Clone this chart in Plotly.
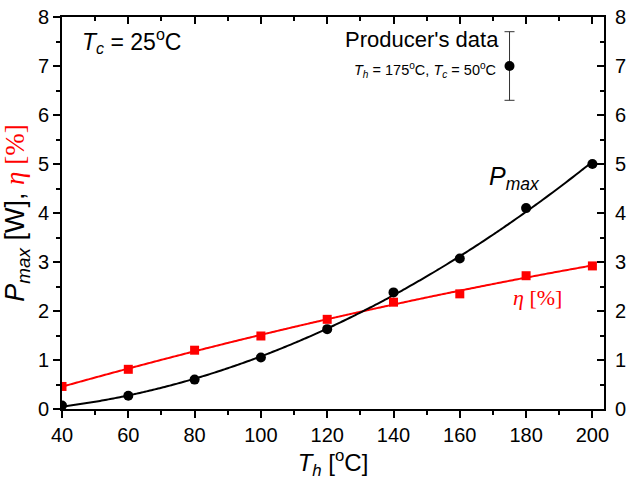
import numpy as np
import plotly.graph_objects as go

th = [40, 60, 80, 100, 120, 140, 160, 180, 200]
pmax = [0.07, 0.27, 0.60, 1.05, 1.63, 2.38, 3.07, 4.10, 5.00]
eta = [0.46, 0.81, 1.20, 1.49, 1.83, 2.18, 2.35, 2.72, 2.92]
prod_x = [175]
prod_y = [7.0]
prod_err = [0.7]
x_ticks = [40, 60, 80, 100, 120, 140, 160, 180, 200]
y_ticks = [0, 1, 2, 3, 4, 5, 6, 7, 8]

# fitted curves (quadratic least squares on the data)
xf = np.linspace(40, 200, 161)
pfit = np.polyval(np.polyfit(th, pmax, 2), xf)
efit = np.polyval(np.polyfit(th, eta, 2), xf)

FONT = "Liberation Sans, Arial, sans-serif"
SERIF = "Liberation Serif, Times New Roman, serif"
fig = go.Figure()
fig.add_trace(go.Scatter(x=xf, y=efit, mode="lines", line=dict(color="#ff0000", width=2, shape="spline"), showlegend=False))
fig.add_trace(go.Scatter(x=xf, y=pfit, mode="lines", line=dict(color="black", width=2, shape="spline"), showlegend=False))
fig.add_trace(go.Scatter(x=th, y=eta, mode="markers", marker=dict(symbol="square", size=9, color="#ff0000"), showlegend=False))
fig.add_trace(go.Scatter(x=th, y=pmax, mode="markers", marker=dict(symbol="circle", size=10, color="black"), showlegend=False))
fig.add_trace(go.Scatter(x=prod_x, y=prod_y, mode="markers",
                         marker=dict(symbol="circle", size=10, color="black"),
                         error_y=dict(type="data", array=prod_err, color="#333333", thickness=1, width=5),
                         showlegend=False))

xr = [40, 203.5]
yr = [0, 8]
common = dict(showgrid=False, zeroline=False, showline=True, linecolor="black", linewidth=2,
              tickcolor="black", tickwidth=2, automargin=False)
fig.update_layout(
    width=630, height=483,
    margin=dict(l=62, r=26, t=17, b=74),
    plot_bgcolor="white", paper_bgcolor="white",
    font=dict(family=FONT, color="black", size=19),
    xaxis=dict(range=xr, tickvals=x_ticks, ticks="outside", ticklen=7,
               minor=dict(ticks="outside", ticklen=4, dtick=10, tickcolor="black", tickwidth=1.5),
               title=dict(text="<i>T<sub>h</sub></i> [<sup>o</sup>C]", font=dict(size=24), standoff=8),
               tickfont=dict(size=20), **common),
    yaxis=dict(range=yr, tickvals=y_ticks, ticks="outside", ticklen=7,
               minor=dict(ticks="outside", ticklen=4, dtick=0.5, tickcolor="black", tickwidth=1.5),
               title=dict(text="<i>P<sub>max</sub></i> [W], "
                               "<span style=\"color:#ff0000;font-family:'Liberation Serif'\">"
                               "<i>η</i> [%]</span>",
                          font=dict(size=27), standoff=6),
               tickfont=dict(size=20), **common),
    xaxis2=dict(range=xr, overlaying="x", side="top", tickvals=x_ticks, ticks="inside", ticklen=7,
                showticklabels=False,
                minor=dict(ticks="inside", ticklen=4, dtick=10, tickcolor="black", tickwidth=1.5),
                **common),
    yaxis2=dict(range=yr, overlaying="y", side="right", tickvals=y_ticks, ticks="inside", ticklen=7,
                minor=dict(ticks="inside", ticklen=4, dtick=0.5, tickcolor="black", tickwidth=1.5),
                ticklabelstandoff=5, tickfont=dict(size=20), **common),
    annotations=[
        dict(x=45.5, y=7.52, xref="x", yref="y", text="<i>T<sub>c</sub></i> = 25<sup>o</sup>C",
             showarrow=False, xanchor="left", font=dict(size=23)),
        dict(x=148.5, y=7.55, xref="x", yref="y", text="Producer's data",
             showarrow=False, font=dict(size=22)),
        dict(x=149.5, y=6.92, xref="x", yref="y",
             text="<i>T<sub>h</sub></i> = 175<sup>o</sup>C, <i>T<sub>c</sub></i> = 50<sup>o</sup>C",
             showarrow=False, font=dict(size=14.5)),
        dict(x=176.5, y=4.72, xref="x", yref="y", text="<i>P<sub>max</sub></i>",
             showarrow=False, font=dict(size=25)),
        dict(x=183.5, y=2.27, xref="x", yref="y", text="<i>η</i> [%]",
             showarrow=False, font=dict(size=22, color="#ff0000", family=SERIF)),
    ],
)
# dummy trace to activate secondary axes
fig.add_trace(go.Scatter(x=[None], y=[None], xaxis="x2", yaxis="y2", showlegend=False, hoverinfo="skip"))
fig.write_html("out.html")
